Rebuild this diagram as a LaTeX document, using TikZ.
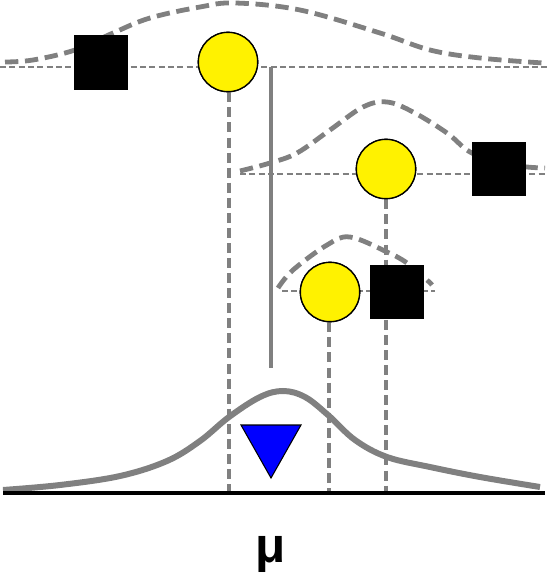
\documentclass[tikz,border=0pt]{standalone}
\usepackage{fontspec}
\setmainfont{Liberation Sans}
\begin{document}
\begin{tikzpicture}[x=0.75pt,y=-0.75pt,
  gline/.style={draw=gray, line width=3.6pt, dash pattern=on 10pt off 5pt},
  thinline/.style={draw=gray, line width=1.3pt, dash pattern=on 4.5pt off 2.5pt},
  vline/.style={draw=gray, line width=2.4pt, dash pattern=on 7.5pt off 3.8pt},
  sq/.style={draw=black, fill=black, minimum size=40pt, inner sep=0pt, line width=0.5pt},
  circ/.style={circle, draw=black, fill=yellow, minimum size=44.5pt, inner sep=0pt, line width=1pt},
  lbl/.style={font=\fontsize{37}{40}\selectfont\bfseries}]
\useasboundingbox (0,0) rectangle (547,581);

% horizontal thin dashed lines
\coordinate (h1a) at (0,67);   \coordinate (h1b) at (547,67);
\coordinate (h2a) at (240,174); \coordinate (h2b) at (547,174);
\coordinate (h3a) at (282,291); \coordinate (h3b) at (435,291);
\draw[thinline] (h1a) -- (h1b);
\draw[thinline] (h2a) -- (h2b);
\draw[thinline] (h3a) -- (h3b);

% dashed gaussians
\draw[gline] plot[smooth, tension=0.6] coordinates {(5,62) (33,60) (75,50) (113,33) (150,18) (200,7) (235,3) (300,10) (380,33) (430,50) (480,58) (543,63)};
\draw[gline] plot[smooth, tension=0.6] coordinates {(240,171) (270,163) (297,153) (330,130) (363,107) (387,102) (413,112) (447,133) (470,152) (500,163) (527,167) (545,168)};
\draw[gline] plot[smooth, tension=0.6] coordinates {(278,288) (293,270) (327,245) (350,237) (387,252) (407,263) (427,280) (432,285)};

% axis
\coordinate (axl) at (3,493); \coordinate (axr) at (545,493);

% nodes
\node[circ] (c1) at (228,62) {};
\node[circ] (c2) at (386,169) {};
\node[circ] (c3) at (330,292) {};
\coordinate (b1) at (229,493);
\coordinate (b2) at (386,493);
\coordinate (b3) at (329,493);

% vertical dashed lines
\draw[vline] (c1.south) ++(1,0) -- (b1);
\draw[vline] (c2.south) -- (b2);
\draw[vline] (c3.south) ++(-1,0) -- (b3);

% solid vertical line
\coordinate (s1) at (271,67); \coordinate (s2) at (271,368);
\draw[gray, line width=2.4pt] (s1) -- (s2);

\node[sq] (q1) at (101,62.5) {};
\node[sq] (q2) at (499,169) {};
\node[sq] (q3) at (397,291.5) {};
\node[circ] at (c1) {};
\node[circ] at (c2) {};
\node[circ] at (c3) {};

% bottom curve
\draw[gray, line width=4.5pt] plot[smooth, tension=0.6] coordinates {(3,490) (60,485) (120,476) (167,461) (200,441) (229,417) (260,397) (283,391) (305,397) (328,415) (355,440) (387,457) (430,467) (480,477) (540,487)};

\draw[black, line width=3.3pt] (axl) -- (axr);

% triangle
\coordinate (t1) at (241,425); \coordinate (t2) at (301,425); \coordinate (t3) at (271,478);
\draw[fill=blue, draw=black, line width=0.8pt, line join=miter] (t1) -- (t2) -- (t3) -- cycle;

\node[lbl] (mu) at (271,554) {μ};
\end{tikzpicture}
\end{document}
